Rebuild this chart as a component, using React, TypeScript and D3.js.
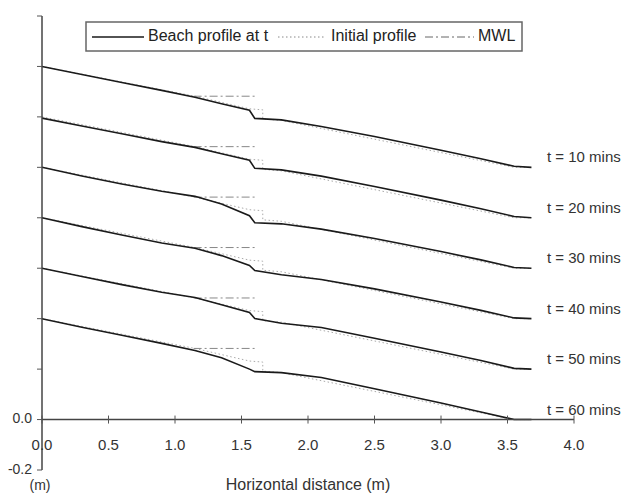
import { useEffect, useRef } from "react";
import * as d3 from "d3";

// Profiles are stacked: each time step is shifted up by its offset (m)
const timeLabels = ["t = 10 mins", "t = 20 mins", "t = 30 mins", "t = 40 mins", "t = 50 mins", "t = 60 mins"];
const offsets = [1.0, 0.8, 0.6, 0.4, 0.2, 0.0];

const profileX = [0, 0.3, 0.6, 0.9, 1.15, 1.35, 1.56, 1.6, 1.8, 2.1, 2.5, 3.0, 3.3, 3.55, 3.68];
const profile10 = [0.4, 0.368, 0.336, 0.305, 0.278, 0.252, 0.226, 0.194, 0.188, 0.162, 0.122, 0.068, 0.034, 0.004, 0.0];
const profile20 = [0.395, 0.364, 0.333, 0.302, 0.279, 0.254, 0.228, 0.196, 0.19, 0.165, 0.124, 0.07, 0.036, 0.005, 0.0];
const profile30 = [0.4, 0.366, 0.334, 0.305, 0.285, 0.255, 0.208, 0.18, 0.176, 0.155, 0.118, 0.066, 0.033, 0.003, 0.0];
const profile40 = [0.4, 0.365, 0.332, 0.3, 0.279, 0.25, 0.211, 0.191, 0.174, 0.155, 0.118, 0.066, 0.033, 0.003, 0.0];
const profile50 = [0.4, 0.367, 0.335, 0.305, 0.284, 0.255, 0.225, 0.201, 0.182, 0.165, 0.122, 0.068, 0.034, 0.003, 0.0];
const profile60 = [0.4, 0.366, 0.334, 0.302, 0.274, 0.245, 0.2, 0.19, 0.186, 0.167, 0.122, 0.066, 0.03, 0.0, 0.0];
const profiles = [profile10, profile20, profile30, profile40, profile50, profile60];

const initialX = [0, 1.15, 1.56, 1.66, 1.66, 1.8, 3.55, 3.68];
const initialZ = [0.4, 0.282, 0.232, 0.228, 0.192, 0.186, 0.0, 0.0];

const mwlX = [1.14, 1.6];
const mwlLevel = 0.282;

const xTicks = [0, 0.5, 1, 1.5, 2, 2.5, 3, 3.5, 4];
const yTicks = [-0.2, 0, 0.2, 0.4, 0.6, 0.8, 1.0, 1.2, 1.4, 1.6];
const yTickLabels = ["-0.2", "0.0"];

export default function App() {
  const ref = useRef<SVGSVGElement>(null);

  useEffect(() => {
    if (!ref.current) return;
    const svg = d3.select(ref.current);
    svg.selectAll("*").remove();

    const font = "'Liberation Sans', Arial, sans-serif";
    const x = d3.scaleLinear().domain([0, 4]).range([42, 574]);
    const y = d3.scaleLinear().domain([-0.2, 1.6]).range([470, 16]);

    const line = d3
      .line<[number, number]>()
      .x((d) => x(d[0]))
      .y((d) => y(d[1]));

    // initial profiles (dotted) and MWL (dash-dot)
    offsets.forEach((off) => {
      svg
        .append("path")
        .attr("d", line(initialX.map((v, i) => [v, initialZ[i] + off]))!)
        .attr("fill", "none")
        .attr("stroke", "#aaa")
        .attr("stroke-width", 1)
        .attr("stroke-dasharray", "1.5,2.5");
      svg
        .append("path")
        .attr("d", line(mwlX.map((v) => [v, mwlLevel + off]))!)
        .attr("fill", "none")
        .attr("stroke", "#888")
        .attr("stroke-width", 1)
        .attr("stroke-dasharray", "8,3,2,3");
    });

    // beach profiles
    profiles.forEach((p, k) => {
      svg
        .append("path")
        .attr("d", line(profileX.map((v, i) => [v, p[i] + offsets[k]]))!)
        .attr("fill", "none")
        .attr("stroke", "#1a1a1a")
        .attr("stroke-width", 1.6);
      svg
        .append("text")
        .attr("x", 547)
        .attr("y", y(offsets[k]) - 9)
        .attr("dominant-baseline", "middle")
        .attr("font-family", font)
        .attr("font-size", 15)
        .attr("fill", "#333")
        .text(timeLabels[k]);
    });

    // axes
    svg
      .append("line")
      .attr("x1", x(0))
      .attr("x2", x(4))
      .attr("y1", y(0))
      .attr("y2", y(0))
      .attr("stroke", "#444")
      .attr("stroke-width", 1.5);
    svg
      .append("line")
      .attr("x1", x(0))
      .attr("x2", x(0))
      .attr("y1", y(-0.2))
      .attr("y2", y(1.6))
      .attr("stroke", "#444")
      .attr("stroke-width", 1.5);

    svg
      .selectAll(".xtick")
      .data(xTicks)
      .join("line")
      .attr("x1", (d) => x(d))
      .attr("x2", (d) => x(d))
      .attr("y1", y(0) - 4)
      .attr("y2", y(0) + 4)
      .attr("stroke", "#555")
      .attr("stroke-width", 1);
    svg
      .selectAll(".xlabel")
      .data(xTicks)
      .join("text")
      .attr("x", (d) => x(d))
      .attr("y", 446)
      .attr("text-anchor", "middle")
      .attr("dominant-baseline", "middle")
      .attr("font-family", font)
      .attr("font-size", 15)
      .attr("fill", "#333")
      .text((d) => d.toFixed(1));

    svg
      .selectAll(".ytick")
      .data(yTicks)
      .join("line")
      .attr("x1", x(0) - 5)
      .attr("x2", x(0))
      .attr("y1", (d) => y(d))
      .attr("y2", (d) => y(d))
      .attr("stroke", "#555")
      .attr("stroke-width", 1);
    svg
      .selectAll(".ylabel")
      .data(yTicks.slice(0, 2))
      .join("text")
      .attr("x", 32)
      .attr("y", (d) => y(d))
      .attr("text-anchor", "end")
      .attr("dominant-baseline", "middle")
      .attr("font-family", font)
      .attr("font-size", 14)
      .attr("fill", "#333")
      .text((_, i) => yTickLabels[i]);

    svg
      .append("text")
      .attr("x", 40)
      .attr("y", 486)
      .attr("text-anchor", "middle")
      .attr("dominant-baseline", "middle")
      .attr("font-family", font)
      .attr("font-size", 14)
      .attr("fill", "#333")
      .text("(m)");
    svg
      .append("text")
      .attr("x", 308)
      .attr("y", 486)
      .attr("text-anchor", "middle")
      .attr("dominant-baseline", "middle")
      .attr("font-family", font)
      .attr("font-size", 16)
      .attr("fill", "#333")
      .text("Horizontal distance (m)");

    // legend
    const lg = svg.append("g");
    lg.append("rect")
      .attr("x", 86)
      .attr("y", 22)
      .attr("width", 436)
      .attr("height", 29)
      .attr("fill", "white")
      .attr("stroke", "#666")
      .attr("stroke-width", 1.5);
    const items = [
      { x1: 92, x2: 144, tx: 148, label: "Beach profile at t", dash: null, color: "#1a1a1a" },
      { x1: 278, x2: 326, tx: 331, label: "Initial profile", dash: "1.5,2.5", color: "#888" },
      { x1: 425, x2: 474, tx: 478, label: "MWL", dash: "8,3,2,3", color: "#666" },
    ];
    items.forEach((it) => {
      lg.append("line")
        .attr("x1", it.x1)
        .attr("x2", it.x2)
        .attr("y1", 37)
        .attr("y2", 37)
        .attr("stroke", it.color)
        .attr("stroke-width", it.dash ? 1 : 1.4)
        .attr("stroke-dasharray", it.dash);
      lg.append("text")
        .attr("x", it.tx)
        .attr("y", 37)
        .attr("dominant-baseline", "middle")
        .attr("font-family", font)
        .attr("font-size", 16)
        .attr("fill", "#222")
        .text(it.label);
    });
  }, []);

  return (
    <svg
      ref={ref}
      width={635}
      height={495}
      style={{ position: "absolute", left: 0, top: 0, background: "white" }}
    />
  );
}
